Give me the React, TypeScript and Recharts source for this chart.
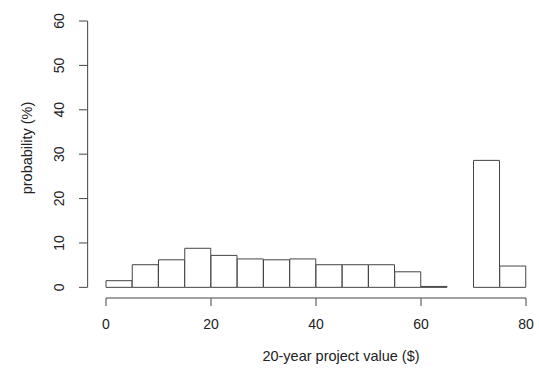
import { BarChart, Bar, XAxis, YAxis, ReferenceLine } from "recharts";

const bins = ["0-5", "5-10", "10-15", "15-20", "20-25", "25-30", "30-35", "35-40", "40-45", "45-50", "50-55", "55-60", "60-65", "65-70", "70-75", "75-80"];
const mids = [2.5, 7.5, 12.5, 17.5, 22.5, 27.5, 32.5, 37.5, 42.5, 47.5, 52.5, 57.5, 62.5, 67.5, 72.5, 77.5];
const probability = [1.5, 5.1, 6.2, 8.8, 7.2, 6.4, 6.2, 6.4, 5.1, 5.1, 5.1, 3.5, 0.2, 0, 28.6, 4.8];
const xTicks = [0, 20, 40, 60, 80];
const yTicks = [0, 10, 20, 30, 40, 50, 60];

const data = bins.map((bin, i) => ({ bin, mid: mids[i], p: probability[i] }));

const FONT = "'Liberation Sans', Arial, sans-serif";
const INK = "#222";
const LINE = "#444";

const YTick = (props: any) => {
  const { y, payload } = props;
  return (
    <g>
      <line x1={79} x2={87.5} y1={y} y2={y} stroke={LINE} strokeWidth={1} />
      <text
        x={59}
        y={y}
        transform={`rotate(-90 59 ${y})`}
        textAnchor="middle"
        dominantBaseline="central"
        fontFamily={FONT}
        fontSize={14}
        fill={INK}
      >
        {payload.value}
      </text>
    </g>
  );
};

export default function App() {
  return (
    <div style={{ position: "absolute", left: 0, top: 0, background: "#fff" }}>
      <BarChart
        width={539}
        height={374}
        data={data}
        margin={{ top: 21, right: 13, left: 0, bottom: 0 }}
        barCategoryGap={0}
        barGap={0}
      >
        <XAxis xAxisId="bins" dataKey="bin" type="category" height={0} hide />
        <XAxis
          xAxisId="val"
          dataKey="mid"
          type="number"
          domain={[0, 80]}
          ticks={xTicks}
          height={76}
          allowDataOverflow
          stroke={LINE}
          tickSize={8}
          tickMargin={13}
          tick={{ fontFamily: FONT, fontSize: 14, fill: INK }}
          label={{
            content: () => (
              <text x={341} y={356} textAnchor="middle" dominantBaseline="central" fontFamily={FONT} fontSize={14.5} fill={INK}>
                20-year project value ($)
              </text>
            ),
          }}
        />
        <YAxis
          type="number"
          domain={[-2.4, 60]}
          ticks={yTicks}
          width={106}
          allowDataOverflow
          axisLine={false}
          tickLine={false}
          tick={<YTick />}
          label={{
            content: () => (
              <text x={27} y={148} transform="rotate(-90 27 148)" textAnchor="middle" dominantBaseline="central" fontFamily={FONT} fontSize={14.5} fill={INK}>
                probability (%)
              </text>
            ),
          }}
        />
        <ReferenceLine
          xAxisId="val"
          segment={[{ x: -3.5, y: 0 }, { x: -3.5, y: 60 }]}
          stroke={LINE}
          strokeWidth={1}
          ifOverflow="visible"
        />
        <Bar xAxisId="bins" dataKey="p" fill="#fff" stroke={LINE} strokeWidth={1} isAnimationActive={false} />
      </BarChart>
    </div>
  );
}
